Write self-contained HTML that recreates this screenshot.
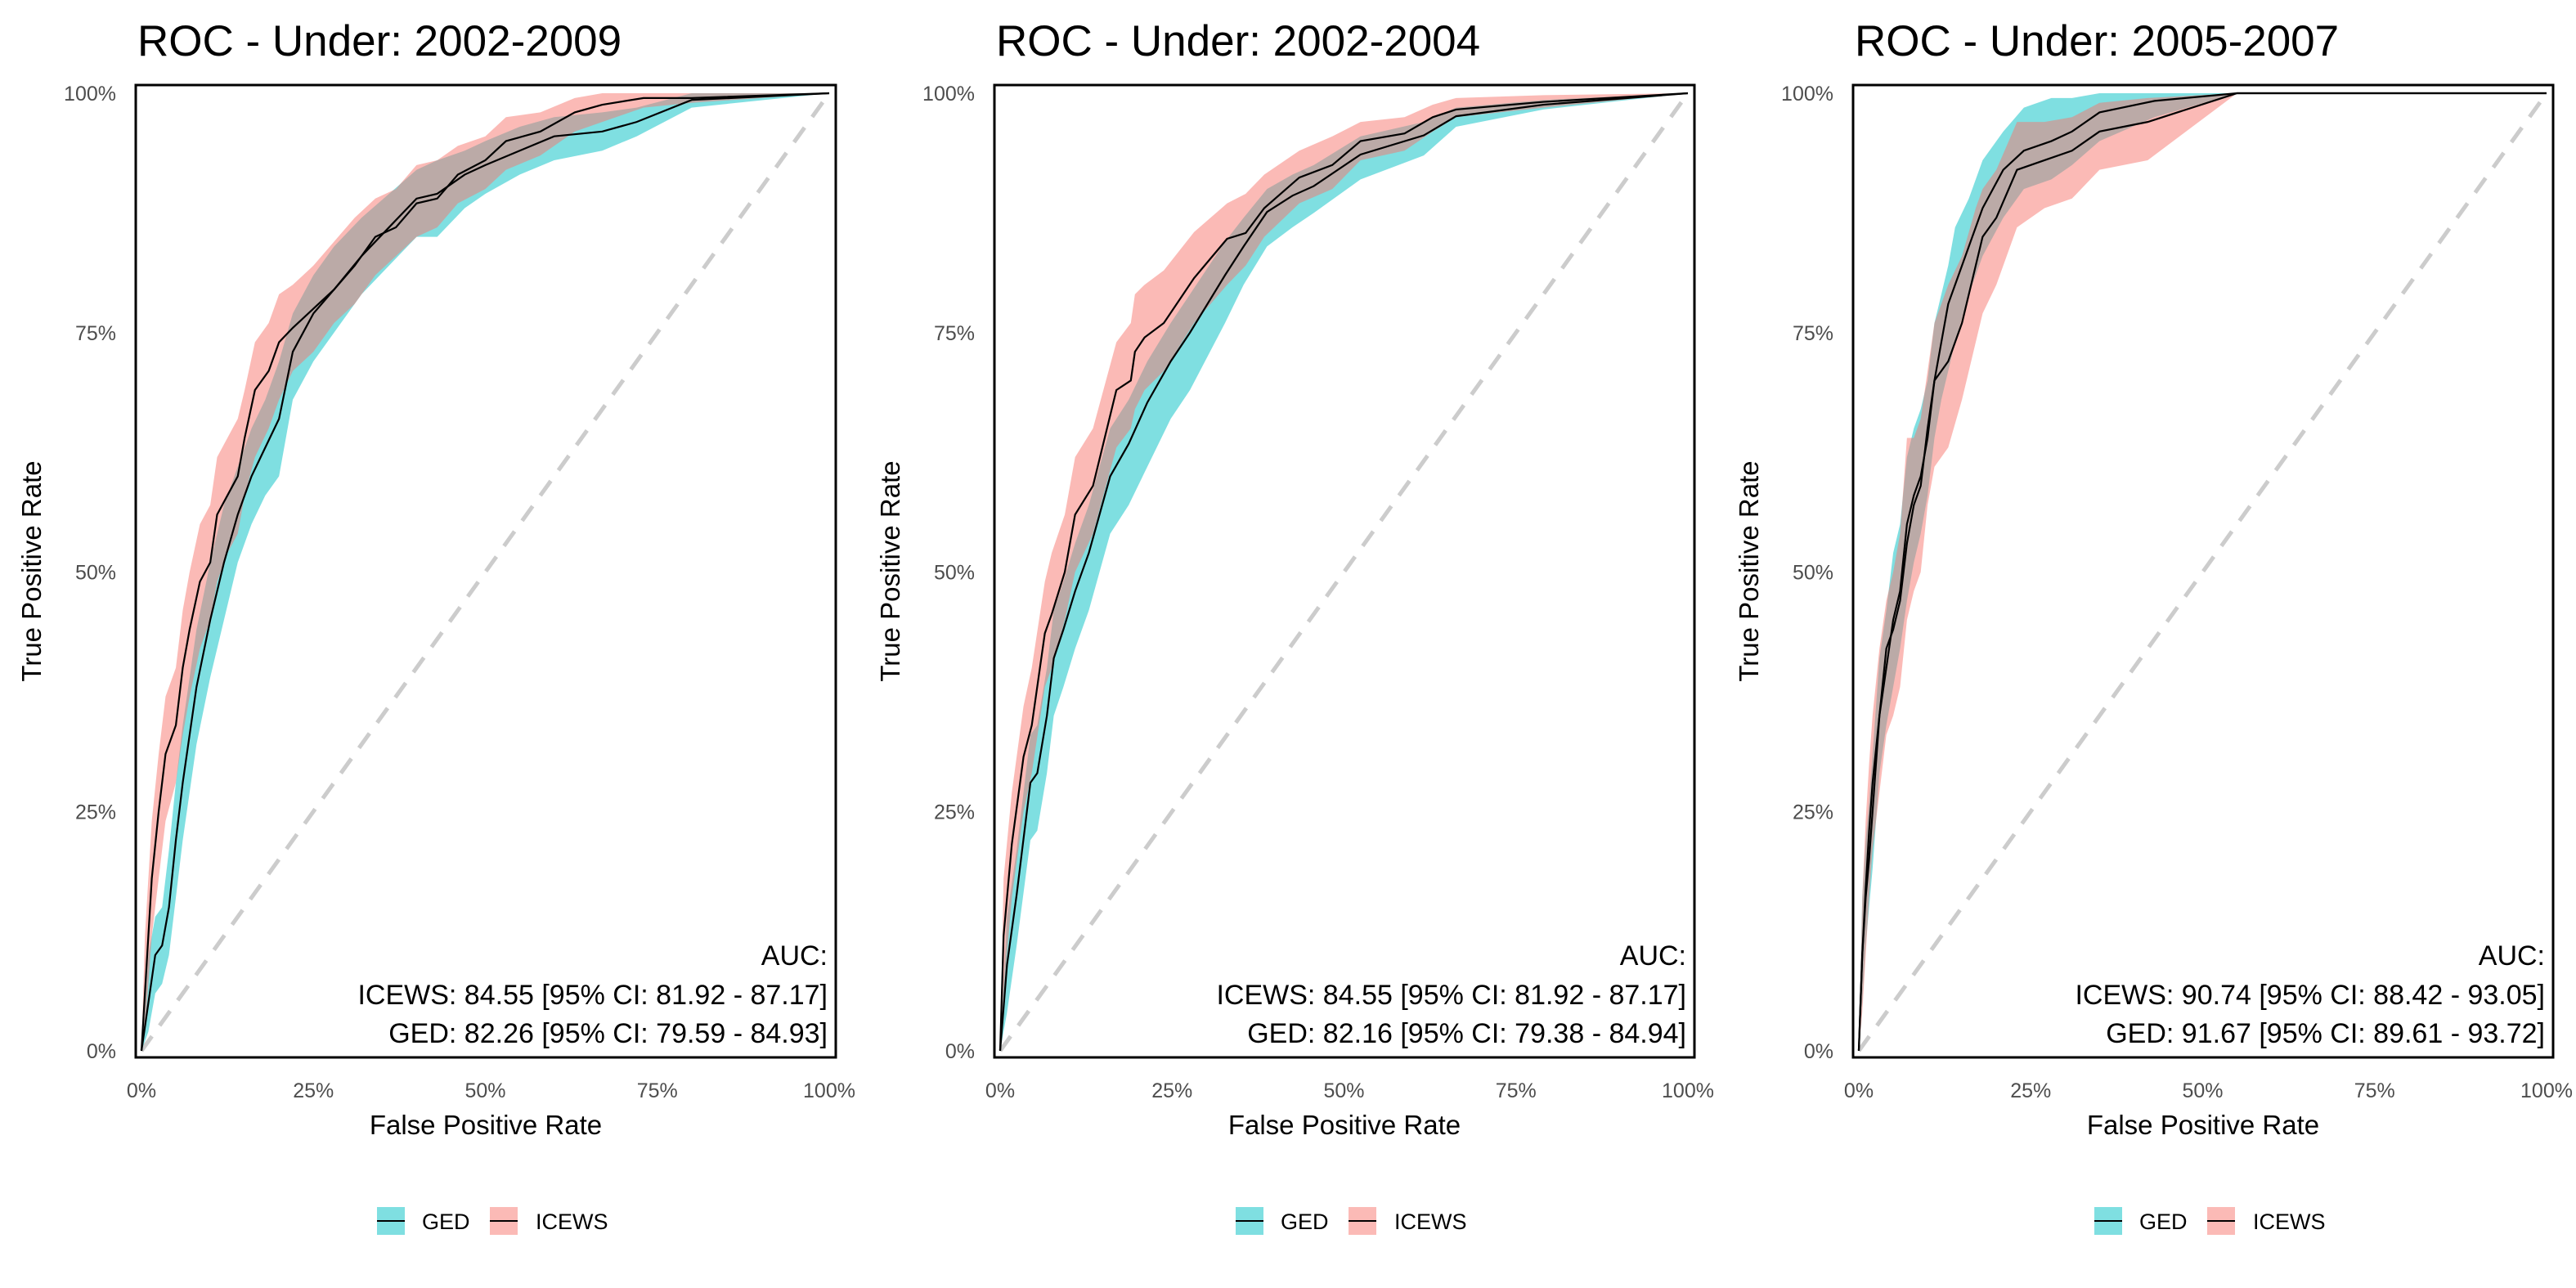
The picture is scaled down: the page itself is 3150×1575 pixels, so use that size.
<!DOCTYPE html>
<html><head><meta charset="utf-8"><style>
html,body{margin:0;padding:0;background:#fff}
svg{display:block;font-family:"Liberation Sans",sans-serif}
</style></head><body>
<svg id="chart" width="3150" height="1575" viewBox="0 0 3150 1575" xmlns="http://www.w3.org/2000/svg"></svg>
<script>
const titles = ["ROC - Under: 2002-2009","ROC - Under: 2002-2004","ROC - Under: 2005-2007"];
const aucIcews = ["ICEWS: 84.55 [95% CI: 81.92 - 87.17]","ICEWS: 84.55 [95% CI: 81.92 - 87.17]","ICEWS: 90.74 [95% CI: 88.42 - 93.05]"];
const aucGed = ["GED: 82.26 [95% CI: 79.59 - 84.93]","GED: 82.16 [95% CI: 79.38 - 84.94]","GED: 91.67 [95% CI: 89.61 - 93.72]"];
const ticks = [0,25,50,75,100];
const tickLabels = ["0%","25%","50%","75%","100%"];

// Panel 1
const p1IcewsX  = [0,0.5,1.5,2.5,3.5,5,6,7,8.5,10,11,12.5,14,15,16.5,18.5,20,22,25,28,31,34,37,40,43,46,50,53,58,63,67,73,80,100];
const p1IcewsY  = [0,6,18,25,31,34,40,44,49,51,56,58,60,64,69,71,74,75.5,77.5,79.5,82,85,86,88.5,89,91.5,93,95,96,98,98.8,99.5,99.5,100];
const p1IcewsLo = [0,2,12,18,24,28,33,37,42,45,49,52,54,58,62,65,68,71,73,76,78,81,83,85,86,88.5,90,92,93.5,96,97,98.5,99,100];
const p1IcewsHi = [0,12,24,31,37,40,46,50,55,57,62,64,66,69,74,76,79,80,82,84.5,87,89,90,92.5,93,94.5,95.5,97.5,98,99.5,100,100,100,100];
const p1GedX  = [0,1,2,3,4,5,6,7,8,10,12,14,16,18,20,22,25,28,32,36,40,43,47,50,55,60,67,72,80,100];
const p1GedY  = [0,5,10,11,15,22,28,33,38,45,51,56,60,63,66,73,77,79.5,83,86,89,89.5,91.5,92.5,94,95.5,96,97,99.3,100];
const p1GedLo = [0,2,6,7,10,16,22,27,32,39,45,51,55,58,60,68,72,75,79,82,85,85,88,89.5,91.5,93,94,95.5,98.5,100];
const p1GedHi = [0,10,14,15,21,28,34,39,44,51,57,61,65,68,72,77,81,84,87,89.5,92,93,94,95,96.5,97.5,98,98.5,100,100];

// Panel 2
const p2IcewsX  = [0,0.5,1.7,3.4,4.6,6.5,7.5,9.4,10.9,13.5,16.9,19,19.6,21,23.8,28.2,33,35.7,38.4,43.5,48.3,52.4,58.8,62.9,66.3,79,100];
const p2IcewsY  = [0,12,21.6,30.7,34,43.6,45.6,50,56,59,69,70,73,74.5,76,80.7,84.8,85.4,88,91.2,92.5,95,95.8,97.5,98.3,99.1,100];
const p2IcewsLo = [0,6,16,25,29,38,40,45,50,54,63,65,67,69,71,76,80,82,85,88.5,90,93,94,96,97.5,98.5,100];
const p2IcewsHi = [0,18,27,36,40,49,52,56,62,65,74,76,79,80,81.5,85.5,88.5,89.5,91.5,94,95.5,97,97.5,98.8,99.5,99.8,100];
const p2GedX  = [0,1,2.4,4.4,5.4,6.8,7.8,9.2,10.9,12.9,16,18.7,21.4,24.8,27.6,32.7,35.4,38.8,42.5,45.6,52.4,61.6,66.3,79,100];
const p2GedY  = [0,9,16.3,28,29,35,41,44,48,52,60,63.4,67.7,72,75,81,84,87.6,89.3,90.3,93.6,95.6,97.6,98.8,100];
const p2GedLo = [0,4,11,22,23,29,35,38,42,46,54,57,61,66,69,76,80,84,86,87.5,91,93.5,96.5,98.3,100];
const p2GedHi = [0,14,21,33,34,40,46,49,53,57,65,68,72,76,79,84.5,87,90,91.5,92.5,95.5,97,98.5,99.3,100];

// Panel 3
const p3GedX  = [0,0.5,1,1.5,2,2.5,3,4,5,6,7,8,9,10,11,12,13,14,16,18,21,24,28,31,35,43,55,100];
const p3GedY  = [0,10,16,20,25,30,35,40,45,48,55,58,60,64,70,74,78,80,84,88,92,94,95,96,98,99.2,100,100];
const p3GedLo = [0,5,11,15,19,24,29,34,38,42,47,51,54,58,64,68,71,74,79,83,87,90,91,92.5,95,97.5,100,100];
const p3GedHi = [0,16,22,26,31,36,41,46,52,55,62,65,67,70,76,79,82,86,89,93,96,98.5,99.5,99.5,100,100,100,100];
const p3IcewsX  = [0,0.5,1,1.5,2,3,4,5,6,7,8,9,10,11,13,15,17,18,20,23,27,31,35,42,55,100];
const p3IcewsY  = [0,10,17,23,28,35,42,44,47,53,57,59,65,70,72,76,82,85,87,92,93,94,96,97,100,100];
const p3IcewsLo = [0,4,10,16,21,27,33,35,38,45,48,50,57,61,63,68,74,77,80,86,88,89,92,93,100,100];
const p3IcewsHi = [0,16,24,30,35,42,47,50,54,64,64,66,71,76,80,83,88,90,92,97,97,97.5,99,99.5,100,100];

const panels = [
  {L:166,R:1022,ged:[p1GedX,p1GedY,p1GedLo,p1GedHi],icews:[p1IcewsX,p1IcewsY,p1IcewsLo,p1IcewsHi]},
  {L:1216,R:2072,ged:[p2GedX,p2GedY,p2GedLo,p2GedHi],icews:[p2IcewsX,p2IcewsY,p2IcewsLo,p2IcewsHi]},
  {L:2266,R:3122,ged:[p3GedX,p3GedY,p3GedLo,p3GedHi],icews:[p3IcewsX,p3IcewsY,p3IcewsLo,p3IcewsHi]}
];
const TOP=104, BOT=1293;
const NS="http://www.w3.org/2000/svg";
const svg=document.getElementById('chart');
function mk(tag,attrs,parent,text){const e=document.createElementNS(NS,tag);for(const k in attrs)e.setAttribute(k,attrs[k]);if(text!==undefined)e.textContent=text;(parent||svg).appendChild(e);return e;}

panels.forEach((p,i)=>{
  const g=mk('g',{});
  
  
  const x0=p.L+7, x1=p.R-8, y0=BOT-8, y1=TOP+10;
  const sx=v=>x0+(x1-x0)*v/100, sy=v=>y0+(y1-y0)*v/100;
  const t=mk('text',{x:p.L+2,y:68,'font-size':53,fill:'#000'},g,titles[i]);
  
  
  const d=mk('line',{x1:sx(0),y1:sy(0),x2:sx(100),y2:sy(100),stroke:'#cccccc','stroke-width':5,'stroke-dasharray':'22 16'},g);
  
  
  [['ged','#00BFC4'],['icews','#F8766D']].forEach(([k,c])=>{
    const [X,Y,Lo,Hi]=p[k];
    let pts=X.map((x,j)=>sx(x)+','+sy(Hi[j]));
    for(let j=X.length-1;j>=0;j--)pts.push(sx(X[j])+','+sy(Lo[j]));
    const b=mk('polygon',{points:pts.join(' '),fill:c,'fill-opacity':0.5},g);
    
    
  });
  ['ged','icews'].forEach(k=>{
    const [X,Y]=p[k];
    const l=mk('polyline',{points:X.map((x,j)=>sx(x)+','+sy(Y[j])).join(' '),fill:'none',stroke:'#000','stroke-width':2.2},g);
    
    
  });
  const box=mk('rect',{x:p.L,y:TOP,width:p.R-p.L,height:BOT-TOP,fill:'none',stroke:'#000','stroke-width':3},g);
  
  
  ticks.forEach((v,j)=>{
    const ty=mk('text',{x:p.L-24,y:sy(v)+9,'font-size':25,fill:'#4d4d4d','text-anchor':'end'},g,tickLabels[j]);
    
    
    const tx=mk('text',{x:sx(v),y:1342,'font-size':25,fill:'#4d4d4d','text-anchor':'middle'},g,tickLabels[j]);
    
    
  });
  const xt=mk('text',{x:(p.L+p.R)/2,y:1387,'font-size':33,fill:'#000','text-anchor':'middle'},g,'False Positive Rate');
  
  
  const cy=(TOP+BOT)/2, cx=p.L-116;
  const yt=mk('text',{x:cx,y:cy,'font-size':33,fill:'#000','text-anchor':'middle',transform:`rotate(-90 ${cx} ${cy})`},g,'True Positive Rate');
  
  
  const ag=mk('g',{'font-size':34,fill:'#000','text-anchor':'end'},g);
  
  
  mk('text',{x:p.R-10,y:1180},ag,'AUC:');
  mk('text',{x:p.R-10,y:1228},ag,aucIcews[i]);
  mk('text',{x:p.R-10,y:1275},ag,aucGed[i]);
  const lg=mk('g',{},g);
  
  
  [['GED','#00BFC4',295,350],['ICEWS','#F8766D',433,489]].forEach(([n,c,kx,tx])=>{
    const e=mk('g',{},lg);
    
    
    mk('rect',{x:p.L+kx,y:1476,width:34,height:34,fill:c,'fill-opacity':0.5},e);
    mk('line',{x1:p.L+kx,y1:1493,x2:p.L+kx+34,y2:1493,stroke:'#000','stroke-width':2},e);
    mk('text',{x:p.L+tx,y:1503,'font-size':27,fill:'#000'},e,n);
  });
});
</script>
</body></html>
